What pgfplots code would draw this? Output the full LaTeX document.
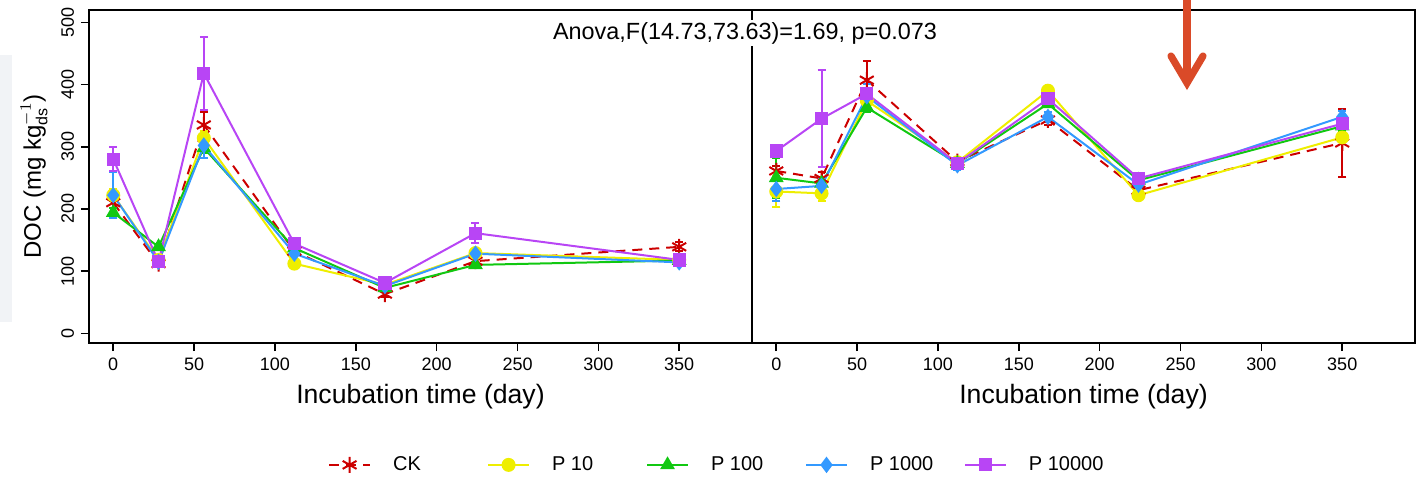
\documentclass[border=0pt]{standalone}
\usepackage{fontspec}
\setmainfont{Liberation Sans}
\setmathrm{Liberation Sans}
\usepackage{pgfplots}
\usepackage{pgfplotstable}
\pgfplotsset{compat=1.18}
\definecolor{ckred}{HTML}{CC0000}
\definecolor{pyel}{HTML}{EEEE00}
\definecolor{pgrn}{HTML}{11C811}
\definecolor{pblu}{HTML}{3399FF}
\definecolor{ppur}{HTML}{B845F5}
\definecolor{arrcol}{HTML}{DA4A28}
\definecolor{ghost}{HTML}{F1F3F6}

% left panel: day, mean, error
\pgfplotstableread{
x y e
0 210 8
28 112 5
56 335 21
112 132 8
168 63 5
224 116 5
350 139 7
}\ckL
\pgfplotstableread{
x y e
0 222 10
28 118 5
56 314 12
112 112 5
168 78 3
224 129 5
350 118 3
}\pxL
\pgfplotstableread{
x y e
0 194 8
28 139 5
56 298 8
112 137 5
168 73 3
224 110 5
350 117 3
}\pcL
\pgfplotstableread{
x y e
0 222 37
28 115 5
56 302 20
112 128 12
168 76 3
224 128 6
350 114 4
}\pmL
\pgfplotstableread{
x y e
0 280 19
28 115 5
56 418 59
112 144 5
168 81 3
224 161 16
350 118 4
}\ptL

% right panel
\pgfplotstableread{
x y e
0 261 8
28 249 10
56 407 30
112 276 5
168 343 8
224 230 5
350 306 55
}\ckR
\pgfplotstableread{
x y e
0 228 25
28 225 12
56 374 8
112 275 5
168 390 8
224 222 5
350 315 8
}\pxR
\pgfplotstableread{
x y e
0 250 32
28 241 8
56 363 8
112 273 5
168 369 5
224 246 5
350 333 8
}\pcR
\pgfplotstableread{
x y e
0 232 20
28 237 12
56 381 20
112 270 8
168 348 8
224 239 5
350 348 10
}\pmR
\pgfplotstableread{
x y e
0 293 5
28 345 78
56 385 8
112 273 5
168 377 5
224 249 5
350 337 8
}\ptR

\pgfplotsset{
  docax/.style={
    scale only axis, width=331.5pt, height=166.5pt,
    xmin=-15, xmax=395, ymin=-15.6, ymax=519.8,
    xtick={0,50,...,350}, xtick pos=left,
    axis line style={line width=1.3pt},
    tick style={line width=0.8pt, black},
    tick align=outside, major tick length=4pt,
    /pgf/number format/assume math mode=true,
    ticklabel style={font=\fontsize{9}{10}\selectfont},
    xlabel={Incubation time (day)},
    xlabel style={font=\fontsize{13.3}{15}\selectfont},
    legend image code/.code={\draw[mark repeat=2,mark phase=2,##1]
      plot coordinates {(0cm,0cm) (0.36cm,0cm) (0.72cm,0cm)};},
  },
  ser/.style={line width=1pt, mark size=3pt, mark options={solid},
    error bars/y dir=both, error bars/y explicit,
    error bars/error mark=-,
    error bars/error bar style={line width=1pt, solid},
    error bars/error mark options={rotate=90, line width=1pt, mark size=2pt, solid}},
  sCK/.style={ser, color=ckred, dash pattern=on 5pt off 3.5pt, mark=asterisk, mark size=4pt},
  sPX/.style={ser, color=pyel, mark=*},
  sPC/.style={ser, color=pgrn, mark=triangle*, mark size=3.3pt},
  sPM/.style={ser, color=pblu, mark=diamond*, mark size=3.3pt},
  sPT/.style={ser, color=ppur, mark=square*, mark size=2.8pt},
}

\begin{document}
\begin{tikzpicture}
\path[use as bounding box] (0,0) rectangle (711.5pt,-240.5pt);
\fill[ghost] (0,-27.5pt) rectangle (6pt,-161pt);

\begin{axis}[docax, at={(44.5pt,-171.5pt)}, anchor=south west,
  ytick={0,100,...,500}, ytick pos=left,
  yticklabel style={rotate=90, anchor=south},
  ylabel={DOC (mg kg$_{\mathrm{ds}}^{-1}$)},
  ylabel style={font=\fontsize{12}{14}\selectfont},
  legend columns=5,
  legend style={draw=none, fill=none, at={(0.351,-0.366)}, anchor=west,
    font=\fontsize{10}{12}\selectfont,
    /tikz/every odd column/.append style={column sep=9pt},
    /tikz/every even column/.append style={column sep=0pt}},
]
\addplot[sCK] table[x=x, y=y, y error=e] {\ckL};
\addlegendentry{\makebox[45pt][l]{CK}}
\addplot[sPX] table[x=x, y=y, y error=e] {\pxL};
\addlegendentry{\makebox[45pt][l]{P 10}}
\addplot[sPC] table[x=x, y=y, y error=e] {\pcL};
\addlegendentry{\makebox[45pt][l]{P 100}}
\addplot[sPM] table[x=x, y=y, y error=e] {\pmL};
\addlegendentry{\makebox[45pt][l]{P 1000}}
\addplot[sPT] table[x=x, y=y, y error=e] {\ptL};
\addlegendentry{P 10000}
\end{axis}

\begin{axis}[docax, at={(376pt,-171.5pt)}, anchor=south west,
  ytick=\empty]
\addplot[sCK] table[x=x, y=y, y error=e] {\ckR};
\addplot[sPX] table[x=x, y=y, y error=e] {\pxR};
\addplot[sPC] table[x=x, y=y, y error=e] {\pcR};
\addplot[sPM] table[x=x, y=y, y error=e] {\pmR};
\addplot[sPT] table[x=x, y=y, y error=e] {\ptR};
\end{axis}

\node[fill=white, inner sep=1pt, font=\fontsize{11.7}{14}\selectfont]
  at (372.5pt,-16.5pt) {Anova,F(14.73,73.63)=1.69, p=0.073};

\draw[arrcol, line width=3.6pt] (593.5pt,2pt) -- (593.5pt,-40pt);
\draw[arrcol, line width=3.6pt, line cap=round, line join=miter]
  (585.5pt,-28pt) -- (593.5pt,-41.5pt) -- (601.5pt,-28pt);
\end{tikzpicture}
\end{document}
